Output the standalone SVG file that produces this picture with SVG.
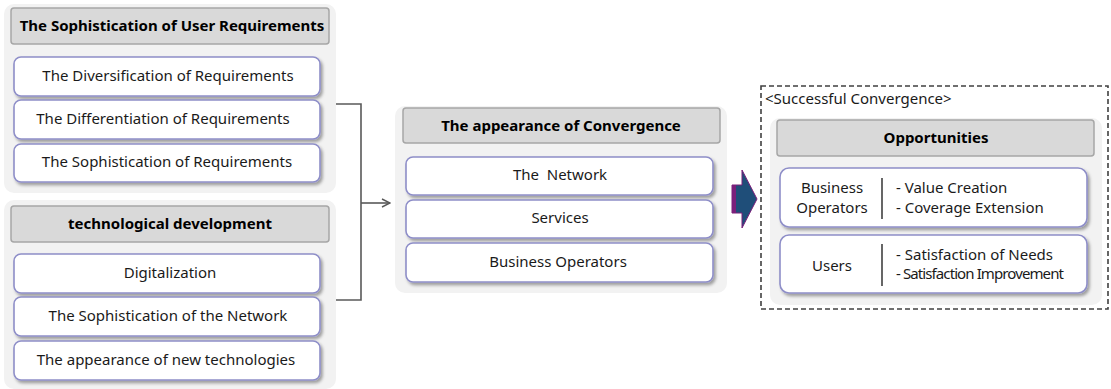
<svg xmlns="http://www.w3.org/2000/svg" width="1111" height="389" viewBox="0 0 1111 389">
<defs>
<filter id="sh" x="-5%" y="-10%" width="115%" height="140%">
<feDropShadow dx="2" dy="2.5" stdDeviation="1.5" flood-color="#000" flood-opacity="0.35"/>
</filter>
<marker id="ah" viewBox="0 0 10 10" refX="9" refY="5" markerWidth="10" markerHeight="10" markerUnits="userSpaceOnUse" orient="auto">
<path d="M1,1 L9,5 L1,9" fill="none" stroke="#595959" stroke-width="1.4"/>
</marker>
</defs>
<style>
.panel{fill:#F2F2F2;}
.hdr{fill:#D9D9D9;stroke:#A6A6A6;stroke-width:1.5;}
.box{fill:#FFFFFF;stroke:#8E8EC8;stroke-width:1.6;filter:url(#sh);}
.ht{font-family:"Noto Sans","Open Sans",sans-serif;font-weight:bold;font-size:15px;fill:#000;text-anchor:middle;}
.bt{font-family:"Noto Sans","Open Sans",sans-serif;font-size:15px;fill:#1a1a1a;text-anchor:middle;}
.lt{font-family:"Noto Sans","Open Sans",sans-serif;font-size:15px;fill:#1a1a1a;}
.con{fill:none;stroke:#595959;stroke-width:1.6;}
</style>
<g id="user-req">
<rect class="panel" x="4" y="4" width="332" height="189" rx="10"/>
<rect class="hdr" x="11" y="8" width="318" height="36" rx="3"/>
<text class="ht" x="172" y="31">The Sophistication of User Requirements</text>
<rect class="box" x="14" y="57" width="306" height="39" rx="7"/>
<text class="bt" x="168" y="81">The Diversification of Requirements</text>
<rect class="box" x="14" y="100" width="306" height="39" rx="7"/>
<text class="bt" x="163" y="124">The Differentiation of Requirements</text>
<rect class="box" x="14" y="144" width="306" height="38" rx="7"/>
<text class="bt" x="167" y="167">The Sophistication of Requirements</text>
</g>
<g id="tech-dev">
<rect class="panel" x="4" y="200" width="332" height="189" rx="10"/>
<rect class="hdr" x="11" y="206" width="318" height="36" rx="3"/>
<text class="ht" x="170" y="229">technological development</text>
<rect class="box" x="14" y="254" width="306" height="39" rx="7"/>
<text class="bt" x="170" y="278">Digitalization</text>
<rect class="box" x="14" y="297" width="306" height="39" rx="7"/>
<text class="bt" x="168" y="321">The Sophistication of the Network</text>
<rect class="box" x="14" y="341" width="306" height="39" rx="7"/>
<text class="bt" x="166" y="365">The appearance of new technologies</text>
</g>
<g id="convergence">
<rect class="panel" x="395" y="106" width="332" height="187" rx="10"/>
<rect class="hdr" x="403" y="108" width="317" height="35" rx="3"/>
<text class="ht" x="561" y="131">The appearance of Convergence</text>
<rect class="box" x="406" y="157" width="307" height="38" rx="7"/>
<text class="bt" x="560" y="180">The&#160; Network</text>
<rect class="box" x="406" y="200" width="307" height="38" rx="7"/>
<text class="bt" x="560" y="223">Services</text>
<rect class="box" x="406" y="243" width="307" height="39" rx="7"/>
<text class="bt" x="558" y="267">Business Operators</text>
</g>
<g id="successful">
<rect x="761" y="86" width="347" height="223" fill="none" stroke="#404040" stroke-width="1.6" stroke-dasharray="5,3"/>
<text class="lt" x="765" y="104">&lt;Successful Convergence&gt;</text>
<rect class="panel" x="770" y="118" width="332" height="187" rx="10"/>
<rect class="hdr" x="777" y="120" width="317" height="36" rx="3"/>
<text class="ht" x="936" y="143">Opportunities</text>
<rect class="box" x="780" y="168" width="307" height="59" rx="9"/>
<text class="bt" x="832" y="193">Business</text>
<text class="bt" x="832" y="213">Operators</text>
<line x1="882" y1="178" x2="882" y2="219" stroke="#000" stroke-width="1.2"/>
<text class="lt" x="896" y="193">- Value Creation</text>
<text class="lt" x="896" y="213">- Coverage Extension</text>
<rect class="box" x="780" y="235" width="307" height="58" rx="9"/>
<text class="bt" x="832" y="271">Users</text>
<line x1="882" y1="244" x2="882" y2="286" stroke="#000" stroke-width="1.2"/>
<text class="lt" x="896" y="260">- Satisfaction of Needs</text>
<text class="lt" x="896" y="279" style="letter-spacing:-0.9px">- Satisfaction Improvement</text>
</g>
<g id="connectors">
<path class="con" d="M336,104 H361 V300 H336"/>
<line class="con" x1="361" y1="203" x2="390" y2="203" marker-end="url(#ah)"/>
<path d="M732,185 H742 V170 L757,199 L742,228 V213 H732 Z" fill="#1F4E79" stroke="#7B1F7B" stroke-width="1"/>
<rect x="732" y="185" width="4" height="28" fill="#7B1F7B"/>
</g>
</svg>
